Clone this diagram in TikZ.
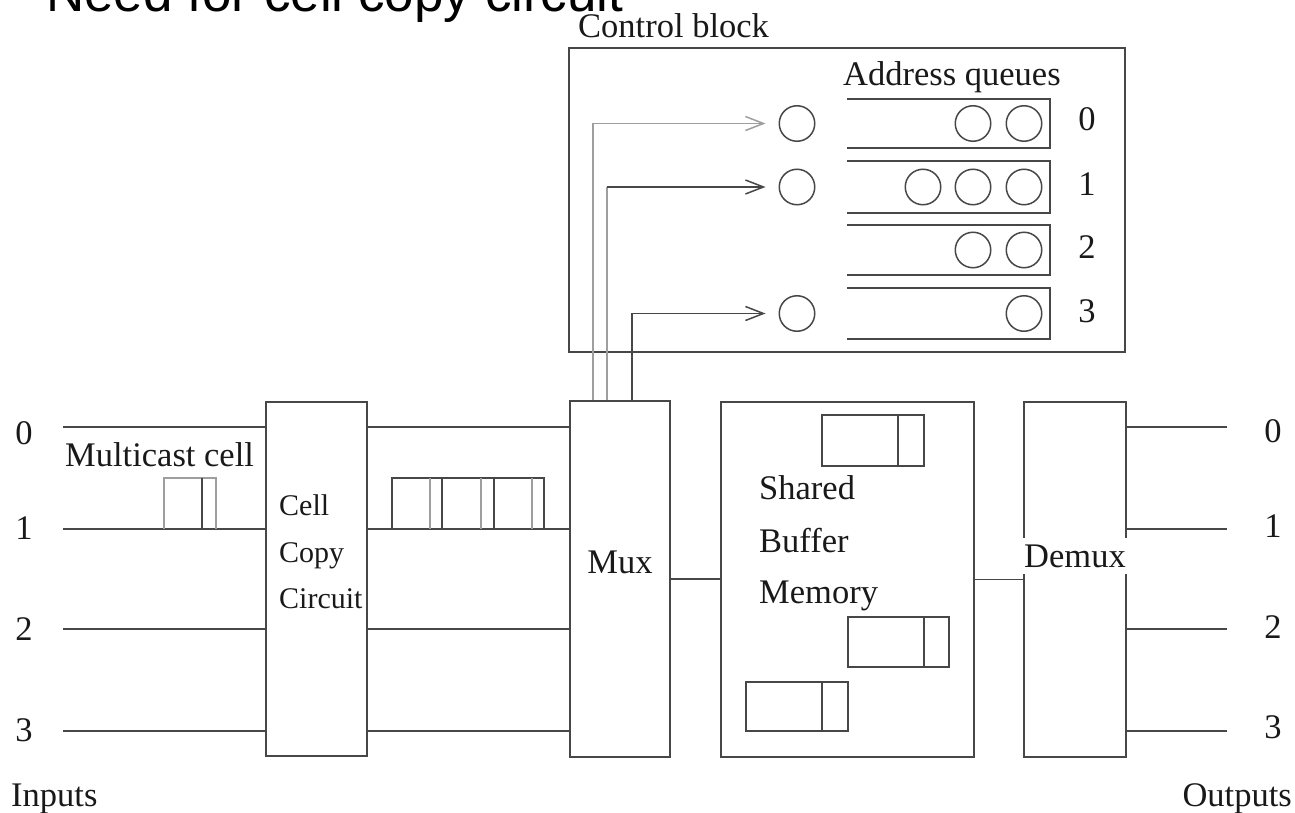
\documentclass[tikz,border=0pt]{standalone}
\usepackage{fontspec}
\setmainfont{Liberation Serif}
\newfontfamily\titlefont{Liberation Sans}
\usetikzlibrary{arrows.meta}
\begin{document}
\begin{tikzpicture}[x=1pt,y=-1pt,
  ln/.style={line width=1.8pt, draw=black!72},
  lt/.style={line width=1.8pt, draw=black!38},
  box/.style={draw=black!72, line width=1.8pt, rectangle, inner sep=0pt},
  txt/.style={font=\fontsize{34.5}{40}\selectfont, inner sep=0pt, text=black!90},
  stxt/.style={font=\fontsize{30}{36}\selectfont, inner sep=0pt, text=black!90},
  circ/.style={circle, draw=black!72, line width=1.5pt, minimum size=35.5pt, inner sep=0pt},
  arr/.style={-{Straight Barb[length=18pt,width=14pt,line width=1.5pt]}, shorten >=13pt}
]
\useasboundingbox (0,0) rectangle (1295,813);
\clip (0,0) rectangle (1295,813);

% title (cut off at the top)
\node[font=\titlefont\fontsize{53}{60}\selectfont, anchor=base west, inner sep=0pt] (title) at (46,12) {Need for cell copy circuit};

% control block
\node[txt, anchor=base west] (cblabel) at (578,38) {Control block};
\node[box, minimum width=556pt, minimum height=304pt] (cb) at (847,200) {};
\node[txt, anchor=base west] (aq) at (843,86) {Address queues};

% address queues (open on the left)
\foreach \t/\b/\i in {99/148/0,161/213/1,225/275/2,288/339/3}{
  \draw[ln] (847,\t) -- (1050,\t) -- (1050,\b) -- (847,\b);
}
\foreach \y/\i in {119/0,184/1,247/2,311/3}{
  \node[txt] (ql\i) at (1087,\y) {\i};
}
% queued addresses
\node[circ] (q0a) at (973,123.5) {};
\node[circ] (q0b) at (1024,123.5) {};
\node[circ] (q1a) at (923,187) {};
\node[circ] (q1b) at (973,187) {};
\node[circ] (q1c) at (1024,187) {};
\node[circ] (q2a) at (973,250) {};
\node[circ] (q2b) at (1024,250) {};
\node[circ] (q3a) at (1024,313.5) {};
% incoming addresses
\node[circ] (c0) at (797,123.5) {};
\node[circ] (c1) at (797,187) {};
\node[circ] (c3) at (797,313.5) {};

% main blocks
\node[box, minimum width=101pt, minimum height=354pt] (ccc) at (316.5,579) {};
\node[box, minimum width=100pt, minimum height=356pt] (mux) at (620,579) {};
\node[box, minimum width=253pt, minimum height=355pt] (mem) at (847.5,579.5) {};
\node[box, minimum width=102pt, minimum height=355pt] (demux) at (1075,579.5) {};

% block texts
\node[stxt, anchor=base west] (t1) at (279,515) {Cell};
\node[stxt, anchor=base west] (t2) at (279,562) {Copy};
\node[stxt, anchor=base west] (t3) at (279,608) {Circuit};
\node[txt, anchor=base] (muxt) at (620,573) {Mux};
\node[txt, anchor=base west] (m1) at (759,499) {Shared};
\node[txt, anchor=base west] (m2) at (759,552) {Buffer};
\node[txt, anchor=base west] (m3) at (759,603) {Memory};
\node[txt, fill=white, minimum width=106pt, inner ysep=7pt] (demuxt) at (1075,556) {Demux};

% input / output lines
\foreach \y/\i/\ly/\ry in {427/0/433/431, 529/1/528/526, 629/2/629/627, 731/3/730/727}{
  \coordinate (in\i) at (63,\y);
  \coordinate (out\i) at (1227,\y);
  \draw[ln] (in\i) -- (in\i -| ccc.west);
  \draw[ln] (in\i -| ccc.east) -- (in\i -| mux.west);
  \draw[ln] (in\i -| demux.east) -- (out\i);
  \node[txt] (il\i) at (24,\ly) {\i};
  \node[txt] (ol\i) at (1273,\ry) {\i};
}
\draw[ln] (mux.east) -- (mux.east -| mem.west);
\draw[ln] (mem.east) -- (mem.east -| demux.west);

\node[txt, anchor=base west] (inputs) at (11,806) {Inputs};
\node[txt, anchor=base east] (outputs) at (1292,806) {Outputs};

% multicast cell
\node[txt, anchor=base west] (mc) at (65,466) {Multicast cell};
\draw[lt] (164,529) |- (216,478) -- (216,529);
\draw[ln] (202,478) -- (202,529);

% copied cells
\draw[ln] (392,529) |- (544,478) -- (544,529);
\draw[lt] (430,478) -- (430,529);
\draw[ln] (442,478) -- (442,529);
\draw[lt] (481,478) -- (481,529);
\draw[ln] (494,478) -- (494,529);
\draw[lt] (532,478) -- (532,529);

% cells in the shared buffer memory
\draw[ln] (822,415) rectangle (924,466);
\draw[ln] (898,415) -- (898,466);
\draw[ln] (848,617) rectangle (949,667);
\draw[ln] (924,617) -- (924,667);
\draw[ln] (746,682) rectangle (848,731);
\draw[ln] (822,682) -- (822,731);

% address connections from the mux
\draw[lt, arr] ([xshift=-27pt]mux.north) |- (c0);
\draw[lt] ([xshift=-13pt]mux.north) -- ([xshift=-13pt]mux.north |- c1);
\draw[ln, arr] ([xshift=-13pt]mux.north |- c1) -- (c1);
\draw[ln, arr] ([xshift=12pt]mux.north) |- (c3);
\end{tikzpicture}
\end{document}
